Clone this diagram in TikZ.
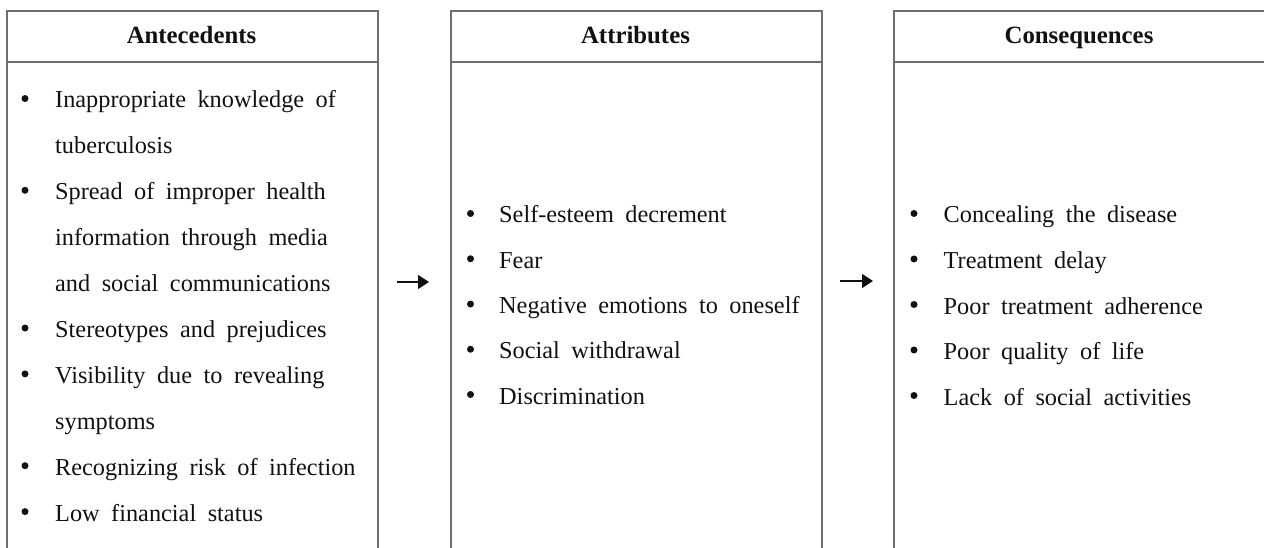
\documentclass[tikz,border=0pt]{standalone}
\usepackage{fontspec}
\setmainfont{Liberation Serif}
\usetikzlibrary{arrows.meta}
\definecolor{linegray}{HTML}{6E6E6E}
\definecolor{ink}{HTML}{111111}
\newcommand{\itemfont}{\fontsize{24.3}{28}\selectfont\spaceskip=11.5pt\relax}
\begin{document}
\begin{tikzpicture}[x=1pt,y=-1pt,
  frame/.style={draw=linegray, line width=1.6pt, minimum width=371pt, minimum height=560pt, anchor=north west, inner sep=0pt},
  sep/.style={draw=linegray, line width=1.6pt},
  head/.style={font=\fontsize{24.8}{28}\selectfont\bfseries, anchor=base, inner sep=0pt, text=ink},
  item/.style={font=\itemfont, anchor=base west, inner sep=0pt, text=ink},
  bul/.style={circle, fill=ink, minimum size=7pt, inner sep=0pt},
  arr/.style={-{Triangle[length=11pt,width=14pt]}, line width=1.3pt, draw=ink}]
\useasboundingbox (0,0) rectangle (1264,548);
% boxes
\node[frame] (boxA) at (6,10) {};
\node[frame] (boxB) at (450,10) {};
\node[frame, minimum width=374pt] (boxC) at (893,10) {};
\draw[sep] (boxA.west |- 0,62) -- (boxA.east |- 0,62);
\draw[sep] (boxB.west |- 0,62) -- (boxB.east |- 0,62);
\draw[sep] (boxC.west |- 0,62) -- (boxC.east |- 0,62);
% headers
\node[head] (hA) at (191.5,44) {Antecedents};
\node[head] (hB) at (635.5,44) {Attributes};
\node[head] (hC) at (1079,44) {Consequences};
% left column
\foreach \t/\b/\n [count=\i from 0] in {
  {Inappropriate knowledge of}/1/a0,
  {tuberculosis}/0/a1,
  {Spread of improper health}/1/a2,
  {information through media}/0/a3,
  {and social communications}/0/a4,
  {Stereotypes and prejudices}/1/a5,
  {Visibility due to revealing}/1/a6,
  {symptoms}/0/a7,
  {Recognizing risk of infection}/1/a8,
  {Low financial status}/1/a9}{
  \node[item] (\n) at (55,108+45.9*\i) {\t};
  \ifnum\b=1 \node[bul] (\n b) at (25,98.5+45.9*\i) {}; \fi
}
% middle column
\foreach \t [count=\i from 0] in {
  {Self-esteem decrement},
  {Fear},
  {Negative emotions to oneself},
  {Social withdrawal},
  {Discrimination}}{
  \node[item] (m\i) at (499,223+45.25*\i) {\t};
  \node[bul] (m\i b) at (470.5,213.5+45.25*\i) {};
}
% right column
\foreach \t [count=\i from 0] in {
  {Concealing the disease},
  {Treatment delay},
  {Poor treatment adherence},
  {Poor quality of life},
  {Lack of social activities}}{
  \node[item] (c\i) at (943.5,223+45.5*\i) {\t};
  \node[bul] (c\i b) at (914,213.5+45.5*\i) {};
}
% arrows
\coordinate (a1s) at ([xshift=18pt]boxA.east |- 0,282);
\coordinate (a1e) at ([xshift=-21pt]boxB.west |- 0,282);
\coordinate (a2s) at ([xshift=17pt]boxB.east |- 0,281);
\coordinate (a2e) at ([xshift=-20pt]boxC.west |- 0,281);
\draw[arr] (a1s) -- (a1e);
\draw[arr] (a2s) -- (a2e);
\end{tikzpicture}
\end{document}
